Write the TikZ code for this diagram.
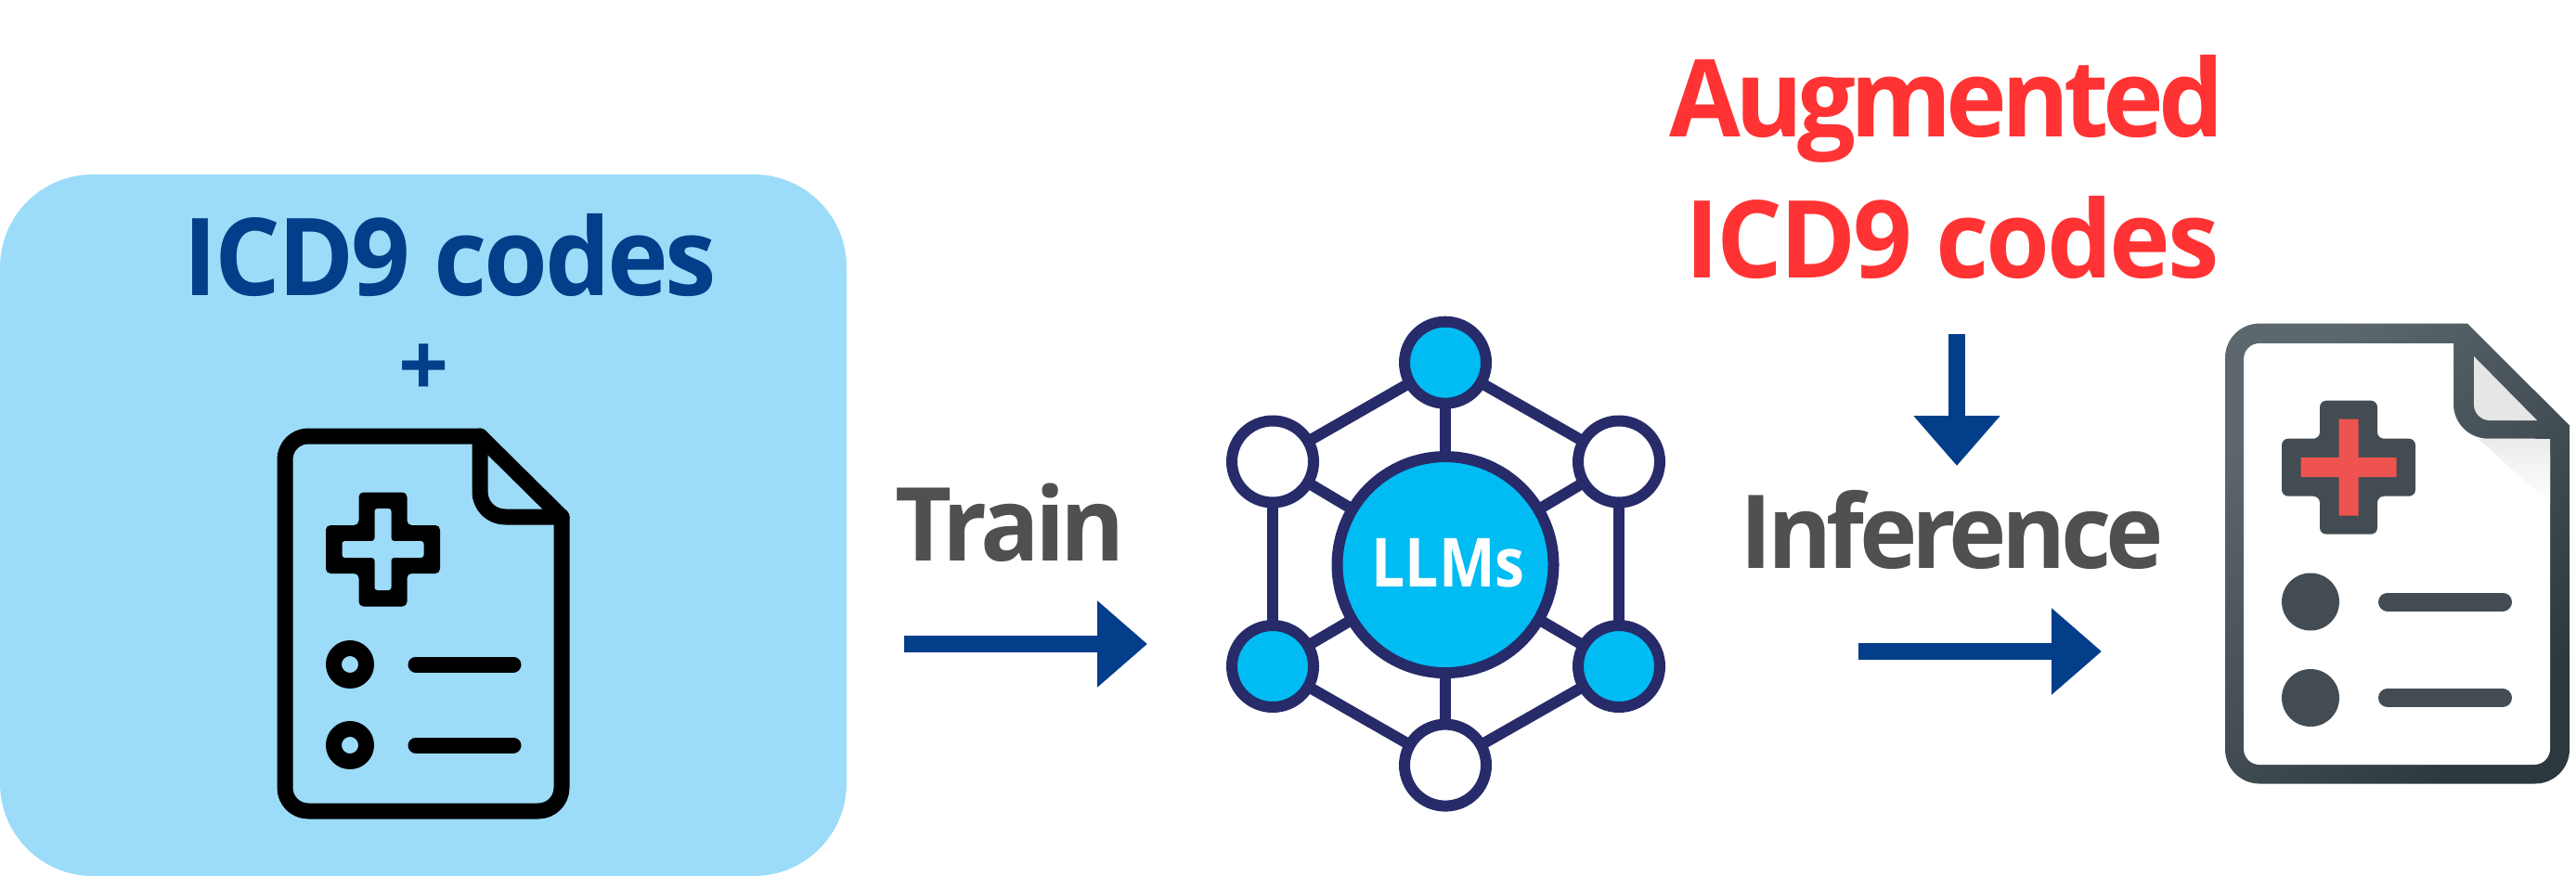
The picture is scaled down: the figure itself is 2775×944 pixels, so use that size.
\documentclass[tikz,border=0pt]{standalone}
\usepackage{fontspec}
\setmainfont{Open Sans}
\usetikzlibrary{arrows.meta}
\definecolor{panelblue}{HTML}{9CDCF9}
\definecolor{arrowblue}{HTML}{023E8A}
\definecolor{netnavy}{HTML}{272B6A}
\definecolor{netcyan}{HTML}{00BCF2}
\definecolor{augred}{HTML}{FF3333}
\definecolor{labelgray}{HTML}{505050}
\definecolor{docdark}{HTML}{434C52}
\definecolor{doclight}{HTML}{5C686E}
\definecolor{docdeep}{HTML}{2C383E}
\definecolor{foldgray}{HTML}{E6E6E6}
\definecolor{crossred}{HTML}{EF5350}
\tikzset{
  bigtext/.style={anchor=base,inner sep=0pt,outer sep=0pt,font=\bfseries\fontsize{116}{116}\selectfont},
  graylabel/.style={anchor=base,inner sep=0pt,outer sep=0pt,text=labelgray,font=\bfseries\fontsize{110}{110}\selectfont},
  blockarrow/.style={draw=arrowblue,line width=18pt,-{Triangle[length=54pt,width=90pt,fill=arrowblue]}},
  netnode/.style={circle,draw=netnavy,line width=12pt,minimum size=88pt,inner sep=0pt,outer sep=0pt},
  netedge/.style={draw=netnavy,line width=12pt},
  iconline/.style={draw=black,line width=17pt,line join=round,line cap=round},
  darkbar/.style={draw=docdark,line width=20pt,line cap=round}
}
\newcommand{\tightened}[2]{\addfontfeatures{FakeStretch=0.96,LetterSpace=#1}#2}
\begin{document}
\begin{tikzpicture}[x=1pt,y=-1pt]
\useasboundingbox (0,0) rectangle (2775,944);
% panel
\fill[panelblue,rounded corners=100pt] (0,188) rectangle (912,944);
\node[bigtext,text=arrowblue] (icdleft) at (485,318) {\tightened{-2.8}{ICD9 codes}};
\node[anchor=base,inner sep=0pt,text=arrowblue,font=\bfseries\fontsize{95}{95}\selectfont] (plus) at (457,427) {+};
% left document
\draw[iconline,rounded corners=25pt] (517,470) -- (307,470) -- (307,874) -- (605,874) [sharp corners] -- (605,557) -- (517,470);
\draw[iconline] (517,470) [rounded corners=27pt] -- (517,557) [sharp corners] -- (605,557);
\fill[black,rounded corners=5pt] (386.5,530.5) -- (438.5,530.5) -- (438.5,566) -- (474,566) -- (474,618) -- (438.5,618) -- (438.5,653.5) -- (386.5,653.5) -- (386.5,618) -- (351,618) -- (351,566) -- (386.5,566) -- cycle;
\fill[panelblue,rounded corners=3pt] (403.5,548) -- (421.5,548) -- (421.5,583) -- (456.5,583) -- (456.5,601) -- (421.5,601) -- (421.5,636) -- (403.5,636) -- (403.5,601) -- (368.5,601) -- (368.5,583) -- (403.5,583) -- cycle;
\draw[iconline] (377,716) circle[radius=17.5pt];
\draw[iconline] (377,803) circle[radius=17.5pt];
\draw[iconline] (448,716) -- (553,716);
\draw[iconline] (448,803) -- (553,803);
% train
\node[graylabel] (train) at (1088,604) {\tightened{-4.5}{Train}};
\coordinate (trainstart) at (974,694);
\coordinate (trainend) at (1236,694);
\draw[blockarrow] (trainstart) -- (trainend);
% network
\node[netnode,fill=netcyan,minimum size=233pt] (center) at (1557,608.6) {};
\node[netnode,fill=netcyan] (top) at (1557,390.7) {};
\node[netnode,fill=white] (ul) at (1371,497.5) {};
\node[netnode,fill=white] (ur) at (1744,497.5) {};
\node[netnode,fill=netcyan] (ll) at (1371,718) {};
\node[netnode,fill=netcyan] (lr) at (1744,718) {};
\node[netnode,fill=white] (bottom) at (1557,824.6) {};
\foreach \a/\b in {top/ul,top/ur,ul/ll,ur/lr,ll/bottom,lr/bottom,center/top,center/ul,center/ur,center/ll,center/lr,center/bottom}
  \draw[netedge] (\a) -- (\b);
\node[anchor=base,inner sep=0pt,text=white,font=\bfseries\fontsize{73}{73}\selectfont] (llms) at (1560,632.5) {\addfontfeatures{FakeStretch=0.88}LLMs};
% right labels
\node[bigtext,text=augred] (aug) at (2097,148) {\tightened{-5.2}{Augmented}};
\node[bigtext,text=augred] (icdright) at (2103,299) {\tightened{-2.8}{ICD9 codes}};
\coordinate (downstart) at (2108,360);
\coordinate (downend) at (2108,502);
\draw[blockarrow] (downstart) -- (downend);
\node[graylabel] (inference) at (2103,612) {\tightened{-5.2}{Inference}};
\coordinate (infstart) at (2002,702);
\coordinate (infend) at (2264,702);
\draw[blockarrow] (infstart) -- (infend);
% right document
\shade[top color=doclight,bottom color=docdeep,shading angle=45,rounded corners=37pt] (2658,348.6) -- (2397,348.6) -- (2397,844.5) -- (2768,844.5) [sharp corners] -- (2768,458.5) -- cycle;
\fill[white,rounded corners=17pt] (2643,370) -- (2417,370) -- (2417,824) -- (2747,824) -- (2747,472.7) [rounded corners=37pt] -- (2643,472.7) [sharp corners] -- cycle;
\fill[foldgray,rounded corners=17pt] (2665,384) -- (2665,453) [sharp corners] -- (2733,453) -- cycle;
\shade[top color=foldgray!80,bottom color=white] (2670,473) -- (2747,473) -- (2747,543) -- cycle;
\fill[docdark,rounded corners=7pt] (2499,431.7) -- (2561,431.7) -- (2561,472.7) -- (2602,472.7) -- (2602,534.7) -- (2561,534.7) -- (2561,575.7) -- (2499,575.7) -- (2499,534.7) -- (2458,534.7) -- (2458,472.7) -- (2499,472.7) -- cycle;
\fill[crossred] (2519.5,451.7) -- (2540.5,451.7) -- (2540.5,493.2) -- (2581.5,493.2) -- (2581.5,514.2) -- (2540.5,514.2) -- (2540.5,555.7) -- (2519.5,555.7) -- (2519.5,514.2) -- (2478.5,514.2) -- (2478.5,493.2) -- (2519.5,493.2) -- cycle;
\fill[docdark] (2489,648.5) circle[radius=31pt];
\fill[docdark] (2489,752) circle[radius=31pt];
\draw[darkbar] (2572,648.5) -- (2696,648.5);
\draw[darkbar] (2572,752) -- (2696,752);
\end{tikzpicture}
\end{document}
